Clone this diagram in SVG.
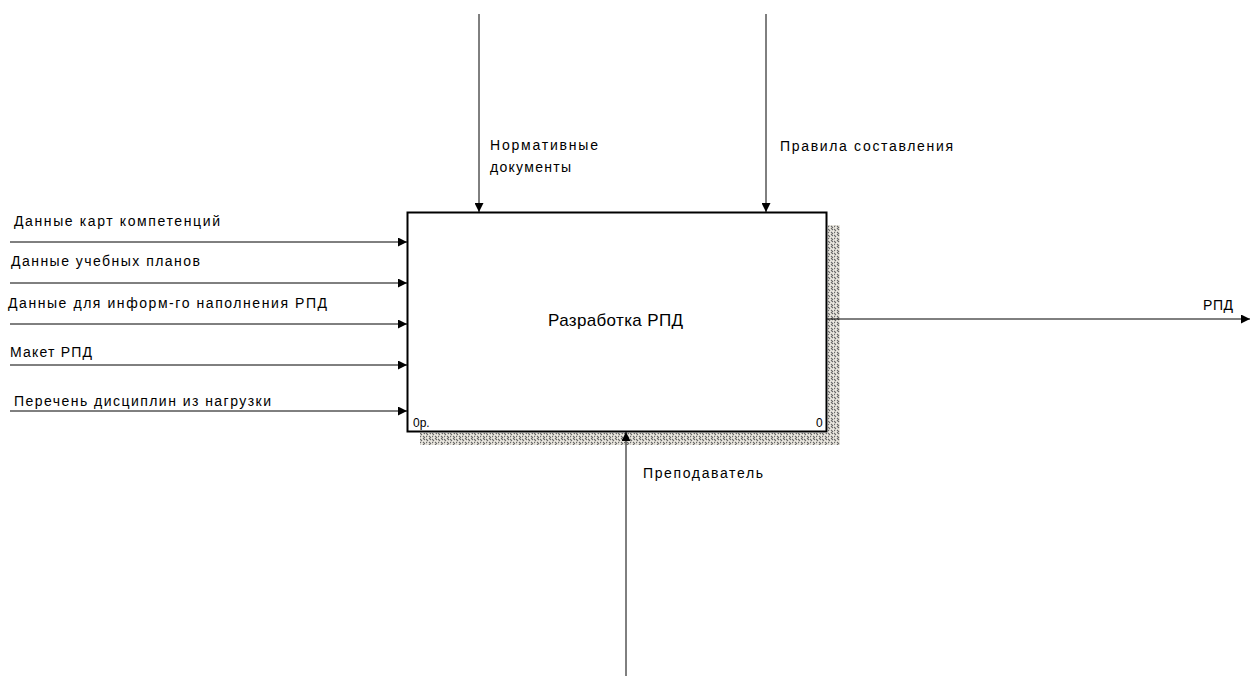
<svg xmlns="http://www.w3.org/2000/svg" width="1250" height="677" viewBox="0 0 1250 677">
<style>
text{font-family:"Liberation Sans",Arial,sans-serif;font-size:14px;fill:#000}
.c{stroke:#000;stroke-width:1;fill:none}
</style>
<defs>
<marker id="ah" viewBox="0 0 10 10" refX="10" refY="5" markerWidth="9" markerHeight="9" markerUnits="userSpaceOnUse" orient="auto">
<path d="M0,0 L10,5 L0,10 z" fill="#000"/>
</marker>
<pattern id="hatch" width="6" height="6" patternUnits="userSpaceOnUse">
<rect width="6" height="6" fill="#ebe8e0"/>
<path d="M0,1 L2,3 M3,4 L5,6 M3,0 L5,2 M0,4 L1,5" stroke="#666" stroke-width="1.1"/>
</pattern>
</defs>
<rect width="1250" height="677" fill="#fff"/>
<g id="node-main">
<rect x="828" y="225" width="12" height="220" fill="url(#hatch)"/>
<rect x="420" y="433" width="420" height="12" fill="url(#hatch)"/>
<rect x="407.5" y="212.5" width="419" height="219" fill="#fff" stroke="#000" stroke-width="2"/>
<text x="548" y="326" textLength="135" lengthAdjust="spacing" style="font-size:17px">Разработка РПД</text>
<text x="413" y="427" style="font-size:12px">0р.</text>
<text x="816" y="427" style="font-size:12px">0</text>
</g>
<g id="connectors">
<line class="c" x1="10" y1="242" x2="407" y2="242" marker-end="url(#ah)"/>
<line class="c" x1="10" y1="283" x2="407" y2="283" marker-end="url(#ah)"/>
<line class="c" x1="10" y1="324" x2="407" y2="324" marker-end="url(#ah)"/>
<line class="c" x1="10" y1="365" x2="407" y2="365" marker-end="url(#ah)"/>
<line class="c" x1="10" y1="411" x2="407" y2="411" marker-end="url(#ah)"/>
<line class="c" x1="479" y1="14" x2="479" y2="212" marker-end="url(#ah)"/>
<line class="c" x1="766" y1="14" x2="766" y2="212" marker-end="url(#ah)"/>
<line class="c" x1="626" y1="676" x2="626" y2="432" marker-end="url(#ah)"/>
<line class="c" x1="827" y1="319" x2="1250" y2="319" marker-end="url(#ah)"/>
</g>
<g id="labels">
<text x="14" y="226" textLength="206" lengthAdjust="spacing">Данные карт компетенций</text>
<text x="11" y="266" textLength="189" lengthAdjust="spacing">Данные учебных планов</text>
<text x="8" y="308" textLength="319" lengthAdjust="spacing">Данные для информ-го наполнения РПД</text>
<text x="10" y="357" textLength="82" lengthAdjust="spacing">Макет РПД</text>
<text x="14" y="406" textLength="257" lengthAdjust="spacing">Перечень дисциплин из нагрузки</text>
<text x="490" y="150" textLength="108" lengthAdjust="spacing">Нормативные</text>
<text x="490" y="172" textLength="81" lengthAdjust="spacing">документы</text>
<text x="780" y="151" textLength="173" lengthAdjust="spacing">Правила составления</text>
<text x="643" y="478" textLength="120" lengthAdjust="spacing">Преподаватель</text>
<text x="1203" y="310" textLength="30" lengthAdjust="spacing">РПД</text>
</g>
</svg>
